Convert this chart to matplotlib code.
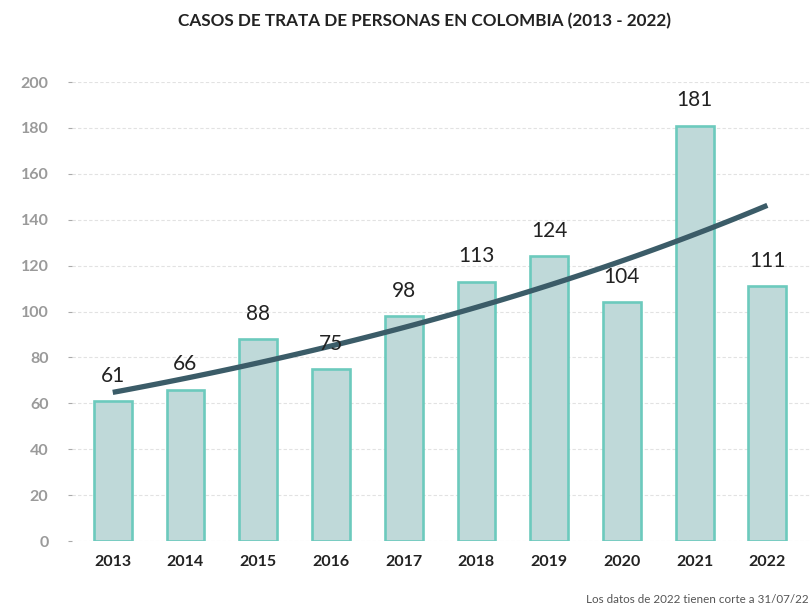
import numpy as np
import matplotlib.pyplot as plt

plt.rcParams['font.family'] = ['Lato', 'DejaVu Sans']

# Data
years = ['2013', '2014', '2015', '2016', '2017', '2018', '2019', '2020', '2021', '2022']
cases = [61, 66, 88, 75, 98, 113, 124, 104, 181, 111]
y_ticks = [0, 20, 40, 60, 80, 100, 120, 140, 160, 180, 200]

fig = plt.figure(figsize=(8.11, 6.12), dpi=100)
ax = fig.add_axes([0.0888, 0.116, 0.9112, 0.75])

x = np.arange(len(years))
ax.bar(x, cases, width=0.52, color='#bfd9d9', edgecolor='#6ccabd',
       linewidth=1.9, zorder=2)

# Exponential trend line fitted on the data
b, a = np.polyfit(x, np.log(cases), 1)
xs = np.linspace(0, len(years) - 1, 100)
ax.plot(xs, np.exp(a + b * xs), color='#3b5c68', linewidth=3.8,
        solid_capstyle='butt', zorder=3)

# Value labels above the bars
for i, v in enumerate(cases):
    ax.annotate(str(v), (x[i], v), textcoords='offset points', xytext=(0, 11),
                ha='center', va='bottom', fontsize=15, color='#222222',
                zorder=4)

ax.set_xlim(-0.56, 9.6)
ax.set_ylim(0, 200)
ax.set_xticks(x)
ax.set_xticklabels(years, fontsize=11.5, fontweight='bold', color='#222222')
ax.set_yticks(y_ticks)
ax.set_yticklabels([str(t) for t in y_ticks], fontsize=11.5,
                   fontweight='bold', color='#9a9a9a')
ax.tick_params(axis='y', length=3, width=0.8, color='#aaaaaa', pad=14)
ax.tick_params(axis='x', length=0, pad=10)
ax.grid(axis='y', linestyle=(0, (3, 2)), color='#e2e2e2', linewidth=0.8,
        zorder=0)
for s in ax.spines.values():
    s.set_visible(False)

fig.text(0.524, 0.965, 'CASOS DE TRATA DE PERSONAS EN COLOMBIA (2013 - 2022)',
         ha='center', va='center', fontsize=12.3, fontweight='bold',
         color='#222222')
fig.text(0.997, 0.012, 'Los datos de 2022 tienen corte a 31/07/22',
         ha='right', va='bottom', fontsize=8.4, color='#555555')

fig.savefig('out.png', dpi=100)
